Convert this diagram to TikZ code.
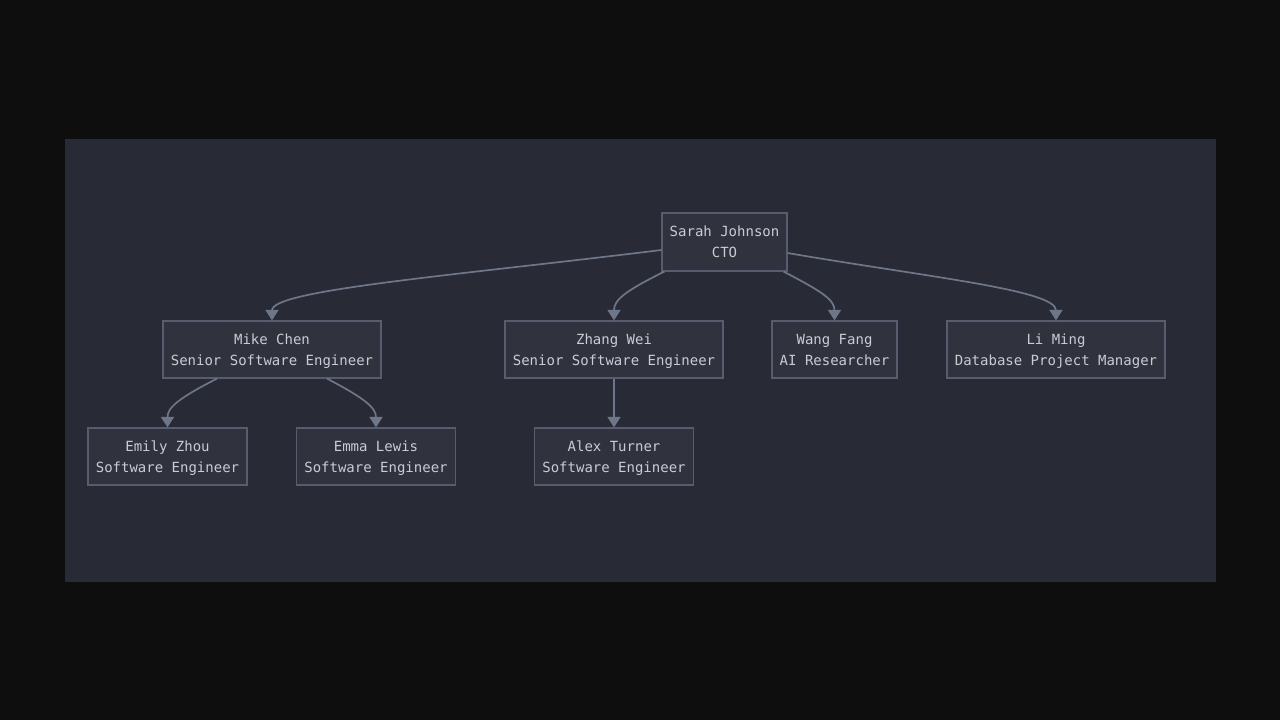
\documentclass[tikz,border=0pt]{standalone}
\usepackage{fontspec}
\setmonofont{DejaVu Sans Mono}
\usetikzlibrary{arrows.meta,calc}
\definecolor{outerbg}{HTML}{0E0E0E}
\definecolor{panelbg}{HTML}{282B35}
\definecolor{nodefill}{HTML}{30333E}
\definecolor{nodeborder}{HTML}{575D6E}
\definecolor{edgecol}{HTML}{6E7689}
\definecolor{textcol}{HTML}{C9CCD3}
\newcommand\lnstrut{\rule[-5.3pt]{0pt}{21pt}}
\tikzset{
  person/.style={draw=nodeborder, fill=nodefill, line width=1.2pt, minimum height=57pt,
    inner sep=0pt, text=textcol, align=center,
    font=\ttfamily\fontsize{14pt}{21pt}\selectfont},
  link/.style={draw=edgecol, line width=1.7pt, -{Triangle[width=13pt,length=10.5pt]}}
}
\begin{document}
\begin{tikzpicture}[x=1pt,y=-1pt]
\useasboundingbox (0,0) rectangle (1280,720);
\fill[outerbg] (0,0) rectangle (1280,720);
\fill[panelbg] (65,139) rectangle (1216,582);
\node[person, minimum width=125pt, minimum height=58pt] (s) at (724.5,242) {\lnstrut Sarah Johnson\\\lnstrut CTO};
\node[person, minimum width=218pt] (m) at (272,349.5) {\lnstrut Mike Chen\\\lnstrut Senior Software Engineer};
\node[person, minimum width=218pt] (z) at (614,349.5) {\lnstrut Zhang Wei\\\lnstrut Senior Software Engineer};
\node[person, minimum width=125pt] (w) at (834.5,349.5) {\lnstrut Wang Fang\\\lnstrut AI Researcher};
\node[person, minimum width=218pt] (l) at (1056,349.5) {\lnstrut Li Ming\\\lnstrut Database Project Manager};
\node[person, minimum width=159pt] (e1) at (167.5,456.5) {\lnstrut Emily Zhou\\\lnstrut Software Engineer};
\node[person, minimum width=159pt] (e2) at (376,456.5) {\lnstrut Emma Lewis\\\lnstrut Software Engineer};
\node[person, minimum width=159pt] (a) at (614,456.5) {\lnstrut Alex Turner\\\lnstrut Software Engineer};
% edges
\draw[link] ([yshift=-8pt]s.west) .. controls (450,276) and (272,290) .. (m.north);
\draw[link] ([xshift=3pt]s.south west) .. controls (625,291) and (614,300) .. (z.north);
\draw[link] ([xshift=-4pt]s.south east) .. controls (823,292) and (834.5,300) .. (w.north);
\draw[link] ([yshift=-11pt]s.east) .. controls (927,277) and (1056,290) .. (l.north);
\draw[link] ([xshift=-55pt]m.south) .. controls (177,399) and (167.5,408) .. (e1.north);
\draw[link] ([xshift=55pt]m.south) .. controls (366,399) and (376,408) .. (e2.north);
\draw[link] (z.south) -- (a.north);
\end{tikzpicture}
\end{document}
